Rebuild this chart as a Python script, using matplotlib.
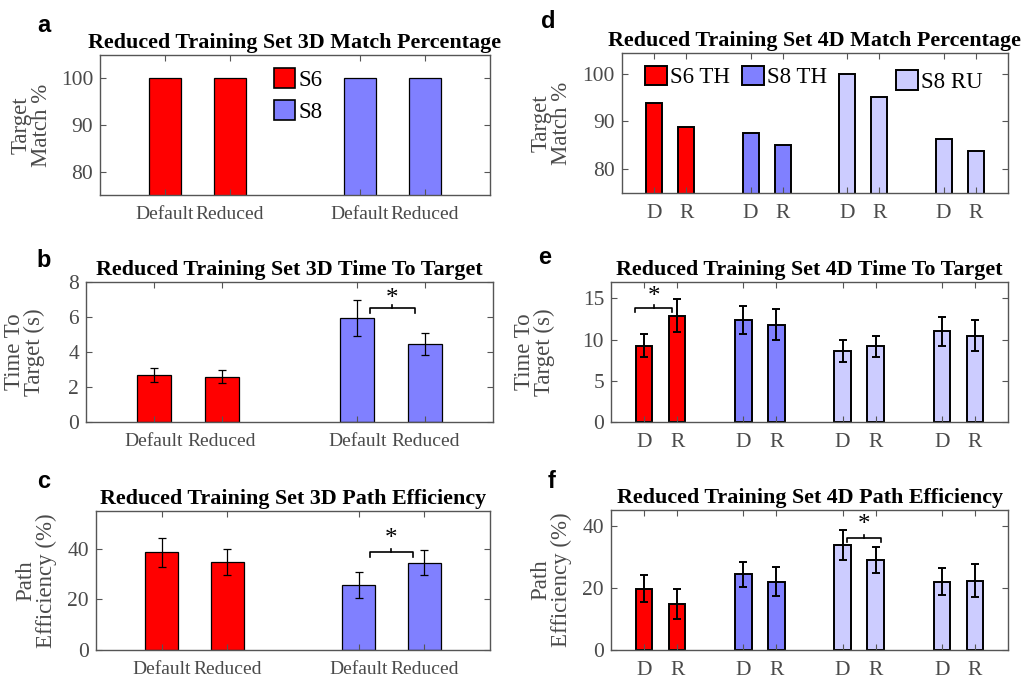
import numpy as np
import matplotlib
matplotlib.use("Agg")
import matplotlib.pyplot as plt
from matplotlib.patches import Patch

# dados
rotulos_3d = ["Default", "Reduced", "Default", "Reduced"]
rotulos_4d = ["D", "R", "D", "R", "D", "R", "D", "R"]

grupos_3d = ["S6", "S8"]
grupos_4d = ["S6 TH", "S8 TH", "S8 RU", "S8 RU"]

# 3D: [Default, Reduced] por grupo
match_3d = [[100, 100], [100, 100]]
tempo_3d = [[2.7, 2.6], [5.95, 4.45]]
tempo_3d_err = [[0.4, 0.35], [1.05, 0.63]]
path_3d = [[38.6, 34.8], [25.7, 34.5]]
path_3d_err = [[5.7, 5.2], [5.1, 5.0]]

# 4D: [D, R] por grupo
match_4d = [[93.75, 88.75], [87.5, 85.0], [100, 95.0], [86.25, 83.75]]
tempo_4d = [[9.27, 12.9], [12.4, 11.8], [8.6, 9.2], [11.0, 10.5]]
tempo_4d_err = [[1.4, 2.0], [1.7, 1.9], [1.3, 1.25], [1.75, 1.85]]
path_4d = [[19.7, 14.8], [24.4, 22.0], [33.8, 29.0], [22.0, 22.3]]
path_4d_err = [[4.4, 4.8], [4.0, 4.6], [4.8, 4.2], [4.2, 5.3]]

cores_3d = ["#ff0000", "#8080ff"]
cores_4d = ["#ff0000", "#8080ff", "#ccccff", "#ccccff"]

serif = ["Liberation Serif", "DejaVu Serif"]
cinza = "#4a4a4a"
plt.rcParams["font.family"] = serif


def barras(ax, valores, erros, cores, rotulos, ylim, yticks, titulo, ylabel, lab_x):
    n = len(valores)
    lw = 0.9 if n == 2 else 1.4
    pos = []
    for i in range(n):
        x = np.array([1, 2]) + 3 * i
        pos += list(x)
        e = None if erros is None else erros[i]
        ax.bar(x, valores[i], width=0.5, color=cores[i], edgecolor="black",
               linewidth=lw, yerr=e, capsize=3,
               error_kw=dict(ecolor="black", elinewidth=lw, capthick=lw))
    ax.set_xlim(0, 3 * n)
    ax.set_ylim(*ylim)
    ax.set_yticks(yticks)
    ax.set_xticks(pos)
    ax.set_xticklabels(rotulos)
    ax.tick_params(direction="in", top=True, right=True, length=4, width=0.8,
                   color="#555555", labelcolor=cinza, labelsize=15.5, pad=5)
    ax.tick_params(axis="x", pad=8, labelsize=14 if n == 2 else 15.5)
    for s in ax.spines.values():
        s.set_color("#555555")
        s.set_linewidth(1.0)
    ax.set_title(titulo, fontsize=15.8, fontweight="bold", pad=5)
    ax.set_ylabel(ylabel, fontsize=16.5, color=cinza, linespacing=0.95)
    ax.yaxis.set_label_coords(lab_x, 0.5)


def chave(ax, x1, x2, y, h, y_est):
    # colchete de significancia com asterisco
    xm = (x1 + x2) / 2
    ax.plot([x1, x1, x2, x2], [y - h, y, y, y - h], color="black", lw=1.2)
    ax.plot([xm, xm], [y, y + h * 0.8], color="black", lw=1.2)
    ax.annotate("*", (xm, y_est), xytext=(0, -5), textcoords="offset points",
                ha="center", va="center", fontsize=18)


fig = plt.figure(figsize=(10.33, 6.81), dpi=100)

ax_a = fig.add_axes([0.0968, 0.7137, 0.3775, 0.2056])
ax_b = fig.add_axes([0.0833, 0.3803, 0.3940, 0.2056])
ax_c = fig.add_axes([0.0929, 0.0455, 0.3814, 0.2041])
ax_d = fig.add_axes([0.6021, 0.7166, 0.3737, 0.2056])
ax_e = fig.add_axes([0.5915, 0.3803, 0.3843, 0.2056])
ax_f = fig.add_axes([0.5915, 0.0455, 0.3843, 0.2056])

barras(ax_a, match_3d, None, cores_3d, rotulos_3d, (75, 105), [80, 90, 100],
       "Reduced Training Set 3D Match Percentage", "Target\nMatch %", -0.123)
barras(ax_b, tempo_3d, tempo_3d_err, cores_3d, rotulos_3d, (0, 8), [0, 2, 4, 6, 8],
       "Reduced Training Set 3D Time To Target", "Time To\nTarget (s)", -0.10)
barras(ax_c, path_3d, path_3d_err, cores_3d, rotulos_3d, (0, 55), [0, 20, 40],
       "Reduced Training Set 3D Path Efficiency", "Path\nEfficiency (%)", -0.099)
barras(ax_d, match_4d, None, cores_4d, rotulos_4d, (75, 104.3), [80, 90, 100],
       "Reduced Training Set 4D Match Percentage", "Target\nMatch %", -0.13)
barras(ax_e, tempo_4d, tempo_4d_err, cores_4d, rotulos_4d, (0, 17), [0, 5, 10, 15],
       "Reduced Training Set 4D Time To Target", "Time To\nTarget (s)", -0.141)
barras(ax_f, path_4d, path_4d_err, cores_4d, rotulos_4d, (0, 45), [0, 20, 40],
       "Reduced Training Set 4D Path Efficiency", "Path\nEfficiency (%)", -0.098)

# legendas
leg_kw = dict(frameon=False, fontsize=16.5, handlelength=0.95, handleheight=0.95,
              handletextpad=0.15, borderaxespad=0, borderpad=0)
h3 = [Patch(facecolor=cores_3d[i], edgecolor="black", linewidth=1.2,
            label=grupos_3d[i]) for i in range(2)]
ax_a.legend(handles=h3, loc="upper left", bbox_to_anchor=(0.445, 0.905),
            labelspacing=0.4, **leg_kw)

h4 = [Patch(facecolor=cores_4d[i], edgecolor="black", linewidth=1.4,
            label=grupos_4d[i]) for i in range(3)]
leg1 = ax_d.legend(handles=h4[:2], loc="upper left", bbox_to_anchor=(0.06, 0.91),
                   ncol=2, columnspacing=0.5, **leg_kw)
ax_d.add_artist(leg1)
ax_d.legend(handles=h4[2:], loc="upper left", bbox_to_anchor=(0.71, 0.88), **leg_kw)

# significancia
chave(ax_b, 4.18, 4.85, 6.5, 0.25, 7.45)
chave(ax_c, 4.17, 4.83, 38.6, 1.6, 46.5)
chave(ax_e, 0.73, 1.85, 13.8, 0.5, 16.0)
chave(ax_f, 7.13, 8.16, 36.0, 1.3, 42.3)

# letras dos paineis
letras = [("a", 44, 26), ("b", 44, 260), ("c", 44, 481),
          ("d", 548, 22), ("e", 545, 257), ("f", 552, 481)]
for txt, px, py in letras:
    fig.text(px / 1033, 1 - py / 681, txt, ha="center", va="center",
             fontsize=17, fontweight="bold", family="Liberation Sans")

fig.savefig("out.png", dpi=100)
